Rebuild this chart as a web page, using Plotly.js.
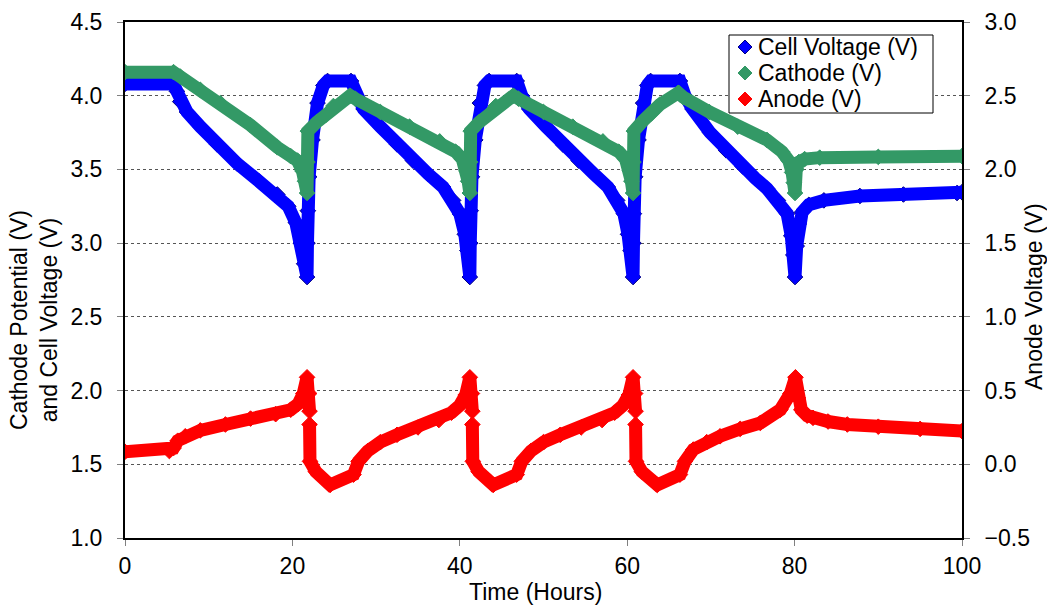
<!DOCTYPE html>
<html>
<head>
<meta charset="utf-8">
<script src="https://cdn.plot.ly/plotly-3.0.1.min.js"></script>
<style>html,body{margin:0;padding:0;background:#fff;}#chart{width:1047px;height:605px;}</style>
</head>
<body>
<div id="chart"></div>
<script>
// Cell voltage (left axis, V)
var cellT = [0,5.8,6.2,6.6,7.4,9.0,11.0,13.4,16.0,18.2,19.5,20.4,21.0,21.4,21.75,21.8,21.85,22.0,22.4,23.0,23.7,24.2,27.0,27.6,28.5,30.5,32.5,34.4,36.2,38.0,39.2,40.0,40.6,40.9,41.2,41.25,41.3,41.45,41.85,42.4,43.0,43.5,46.8,47.4,48.3,50.3,52.3,54.2,56.0,57.7,58.8,59.6,60.1,60.4,60.7,60.75,60.8,60.95,61.35,61.9,62.4,62.8,66.3,66.9,67.8,69.9,71.8,73.8,75.3,76.7,78.0,79.1,79.6,79.85,80.05,80.25,80.5,80.9,81.7,83.5,87.8,93.0,99.4,100];
var cellV = [4.08,4.08,4.03,3.96,3.89,3.79,3.67,3.54,3.42,3.33,3.25,3.14,3.00,2.86,2.77,3.00,3.22,3.45,3.70,3.95,4.07,4.10,4.10,4.00,3.91,3.79,3.67,3.56,3.47,3.38,3.29,3.20,3.06,2.95,2.77,3.00,3.22,3.45,3.70,3.95,4.07,4.10,4.10,4.00,3.91,3.79,3.67,3.56,3.47,3.38,3.29,3.20,3.06,2.95,2.77,3.00,3.20,3.45,3.70,3.95,4.07,4.10,4.10,4.00,3.91,3.75,3.63,3.52,3.44,3.37,3.29,3.20,3.05,2.92,2.77,2.98,3.13,3.21,3.26,3.29,3.32,3.33,3.34,3.345];

// Cathode potential (left axis, V)
var cathT = [0,5.8,6.6,9.0,11.4,15.0,18.2,19.8,20.6,21.2,21.5,21.75,21.8,21.85,22.9,24.0,24.9,26.9,27.5,30.5,34.0,37.6,39.5,40.3,40.8,41.0,41.2,41.25,41.3,42.3,43.4,44.3,46.4,47.0,50.0,53.5,57.1,59.0,59.8,60.3,60.5,60.7,60.75,60.8,61.9,62.9,63.9,66.1,66.7,69.8,73.2,76.7,78.5,79.3,79.7,79.9,80.05,80.2,80.5,81.2,83.0,90.0,100];
var cathV = [4.16,4.16,4.13,4.04,3.95,3.80,3.65,3.59,3.56,3.49,3.42,3.34,3.55,3.76,3.82,3.87,3.93,4.00,3.98,3.89,3.79,3.69,3.62,3.57,3.49,3.42,3.34,3.55,3.76,3.82,3.87,3.93,4.00,3.98,3.89,3.79,3.69,3.62,3.57,3.49,3.42,3.34,3.55,3.76,3.83,3.88,3.94,4.02,3.99,3.89,3.79,3.70,3.62,3.56,3.48,3.41,3.34,3.50,3.55,3.57,3.58,3.585,3.59];

// Anode voltage (right axis, V); null marks a gap between samples
var anodeT = [0,5.3,5.8,6.3,7.2,9.0,12.0,15.0,18.0,19.8,20.7,21.3,21.75,22.0,22.05,null,22.05,22.1,22.8,24.5,27.3,27.9,29.0,30.5,32.5,35.0,37.5,39.0,40.0,40.7,41.2,41.45,41.5,null,41.5,41.55,42.25,44.0,46.8,47.4,48.5,50.0,52.0,54.5,57.0,58.5,59.5,60.2,60.7,60.95,61.0,null,61.0,61.05,61.75,63.6,66.3,66.9,67.9,69.5,71.1,73.5,75.9,78.3,79.5,80.1,80.4,80.8,81.5,82.2,84.0,86.3,90.0,95.0,100];
var anodeV = [0.085,0.09,0.11,0.16,0.19,0.23,0.27,0.31,0.34,0.37,0.41,0.48,0.59,0.48,0.36,null,0.27,0.02,-0.05,-0.14,-0.07,0.02,0.09,0.15,0.20,0.25,0.30,0.35,0.40,0.47,0.59,0.48,0.36,null,0.27,0.02,-0.05,-0.14,-0.07,0.02,0.09,0.15,0.20,0.25,0.30,0.35,0.40,0.47,0.59,0.48,0.36,null,0.27,0.02,-0.05,-0.14,-0.07,0.02,0.10,0.15,0.19,0.24,0.28,0.37,0.48,0.59,0.45,0.37,0.33,0.315,0.29,0.27,0.255,0.24,0.225];

var xTicks = [0,20,40,60,80,100];
var seriesNames = ['Cell Voltage (V)','Cathode (V)','Anode (V)'];
var seriesColors = ['#0000FF','#339966','#FF0000'];
var seriesEdges = ['#000080','#339966','#FF0000'];

var FONT = '"Liberation Sans", Arial, Helvetica, sans-serif';
var LW = 13, MS = 12;

function pair(x, y, i, axis) {
  return [
    {x: x, y: y, name: seriesNames[i], yaxis: axis, type: 'scatter', mode: 'markers',
     marker: {symbol: 'diamond', size: MS, color: seriesColors[i], line: {color: seriesEdges[i], width: 1}},
     showlegend: false, hoverinfo: 'skip'},
    {x: x, y: y, name: seriesNames[i], yaxis: axis, type: 'scatter', mode: 'lines',
     line: {color: seriesColors[i], width: LW}, connectgaps: false, showlegend: false, hoverinfo: 'skip'}
  ];
}

var data = [].concat(
  pair(cellT, cellV, 0, 'y'),
  pair(cathT, cathV, 1, 'y'),
  pair(anodeT, anodeV, 2, 'y2')
);

// hand-built legend (box, diamond keys, labels) in paper coordinates
function px2x(p) { return (p - 125) / 837; }
function px2y(p) { return (538 - p) / 516; }
var legRows = [47, 73, 99];
var shapes = [
  {type: 'rect', xref: 'paper', yref: 'paper', layer: 'above',
   x0: px2x(729), x1: px2x(933), y0: px2y(113), y1: px2y(35),
   line: {color: '#000', width: 1}, fillcolor: '#fff'}
];
var annotations = [];
for (var i = 0; i < 3; i++) {
  shapes.push({type: 'path', xref: 'paper', yref: 'paper', layer: 'above',
    xsizemode: 'pixel', ysizemode: 'pixel', xanchor: px2x(745), yanchor: px2y(legRows[i]),
    path: 'M0,7 L7,0 L0,-7 L-7,0 Z', fillcolor: seriesColors[i],
    line: {color: seriesEdges[i], width: 1}});
  annotations.push({text: seriesNames[i], xref: 'paper', yref: 'paper',
    x: px2x(756), y: px2y(legRows[i]), xanchor: 'left', yanchor: 'middle',
    showarrow: false, font: {size: 23, color: '#000'}});
}
annotations.push(
  {text: 'Cathode Potential (V)<br>and Cell Voltage (V)', xref: 'paper', yref: 'paper',
   x: px2x(34), y: px2y(320), xanchor: 'center', yanchor: 'middle', textangle: -90,
   showarrow: false, font: {size: 23}},
  {text: 'Anode Voltage (V)', xref: 'paper', yref: 'paper',
   x: px2x(1034), y: px2y(297), xanchor: 'center', yanchor: 'middle', textangle: -90,
   showarrow: false, font: {size: 23}},
  {text: 'Time (Hours)', xref: 'paper', yref: 'paper',
   x: px2x(535), y: px2y(592), xanchor: 'center', yanchor: 'middle',
   showarrow: false, font: {size: 23}}
);

var layout = {
  width: 1047, height: 605,
  margin: {l: 125, r: 85, t: 22, b: 67},
  paper_bgcolor: '#fff', plot_bgcolor: '#fff',
  font: {family: FONT, size: 23, color: '#000'},
  showlegend: false,
  xaxis: {range: [0, 100], tickvals: xTicks, ticks: 'outside', ticklen: 6, tickcolor: '#808080',
          tickwidth: 1, showline: true, linecolor: '#000', linewidth: 2, mirror: true,
          showgrid: false, zeroline: false, tickfont: {size: 23}, fixedrange: true},
  yaxis: {range: [1, 4.5], dtick: 0.5, tick0: 1, tickformat: '.1f', ticks: 'outside', ticklen: 6,
          tickcolor: '#808080', tickwidth: 1, showline: true, linecolor: '#000', linewidth: 2,
          showgrid: true, gridcolor: '#555', griddash: 'dot', gridwidth: 1, zeroline: false,
          tickfont: {size: 23}, ticklabelstandoff: 10, fixedrange: true},
  yaxis2: {range: [-0.5, 3.0], dtick: 0.5, tick0: -0.5, tickformat: '.1f', overlaying: 'y', side: 'right',
           ticks: 'outside', ticklen: 6, tickcolor: '#808080', tickwidth: 1, showline: true,
           linecolor: '#000', linewidth: 2, showgrid: false, zeroline: false,
           tickfont: {size: 23}, ticklabelstandoff: 10, fixedrange: true},
  shapes: shapes,
  annotations: annotations
};

Plotly.newPlot('chart', data, layout, {staticPlot: true, displayModeBar: false});
</script>
</body>
</html>
